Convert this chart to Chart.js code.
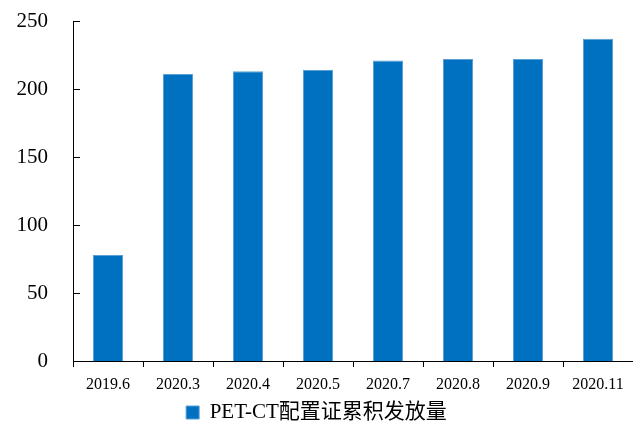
<!DOCTYPE html>
<html lang="zh">
<head>
    <meta charset="UTF-8">
    <title>PET-CT配置证累积发放量</title>
    <script src="https://cdn.jsdelivr.net/npm/chart.js"></script>
    <style>
        html, body { margin: 0; padding: 0; background: #fff; }
        #wrap { width: 633px; height: 423px; }
    </style>
</head>
<body>
    <div id="wrap"><canvas id="petChart" width="633" height="423"></canvas></div>
    <script>
        const categories = ['2019.6', '2020.3', '2020.4', '2020.5', '2020.7', '2020.8', '2020.9', '2020.11'];
        const issued = [78, 211, 213, 214, 221, 222, 222, 237];
        const yTicks = [0, 50, 100, 150, 200, 250];
        const seriesName = 'PET-CT配置证累积发放量';

        const serif = "'Liberation Serif', 'Noto Sans CJK SC', serif";

        // little tick marks pointing into the plot on the y axis
        const innerTicks = {
            id: 'innerTicks',
            afterDraw(chart) {
                const y = chart.scales.y;
                const ctx = chart.ctx;
                ctx.save();
                ctx.strokeStyle = '#000';
                ctx.lineWidth = 1;
                yTicks.forEach(v => {
                    const py = Math.round(y.getPixelForValue(v)) + 0.5;
                    ctx.beginPath();
                    ctx.moveTo(y.right, py);
                    ctx.lineTo(y.right + 7, py);
                    ctx.stroke();
                });
                ctx.restore();
            }
        };

        new Chart(document.getElementById('petChart'), {
            type: 'bar',
            data: {
                labels: categories,
                datasets: [{
                    label: seriesName,
                    data: issued,
                    backgroundColor: '#0070C0',
                    borderColor: '#5a9fd6',
                    borderWidth: 1,
                    categoryPercentage: 1,
                    barPercentage: 0.43
                }]
            },
            options: {
                responsive: false,
                animation: false,
                layout: { padding: { top: 21, right: 0, left: 0, bottom: -10 } },
                plugins: {
                    tooltip: { enabled: false },
                    legend: {
                        position: 'bottom',
                        labels: {
                            color: '#000',
                            font: { family: serif, size: 21 },
                            boxWidth: 13,
                            boxHeight: 13,
                            padding: 2
                        }
                    }
                },
                scales: {
                    x: {
                        afterFit: s => { s.height = 39; s.paddingLeft = 0; s.paddingRight = 0; },
                        grid: {
                            offset: true,
                            drawOnChartArea: false,
                            tickLength: 6,
                            color: '#000'
                        },
                        border: { color: '#000', width: 1 },
                        ticks: {
                            color: '#000',
                            font: { family: serif, size: 16 },
                            padding: 8,
                            maxRotation: 0,
                            autoSkip: false
                        }
                    },
                    y: {
                        min: 0,
                        max: 250,
                        afterFit: s => { s.width = 73; s.paddingTop = 0; s.paddingBottom = 0; },
                        afterBuildTicks: s => { s.ticks = yTicks.map(v => ({ value: v })); },
                        grid: { display: false },
                        border: { color: '#000', width: 1 },
                        ticks: {
                            color: '#000',
                            font: { family: serif, size: 21 },
                            padding: 17
                        }
                    }
                }
            },
            plugins: [innerTicks]
        });
    </script>
</body>
</html>
